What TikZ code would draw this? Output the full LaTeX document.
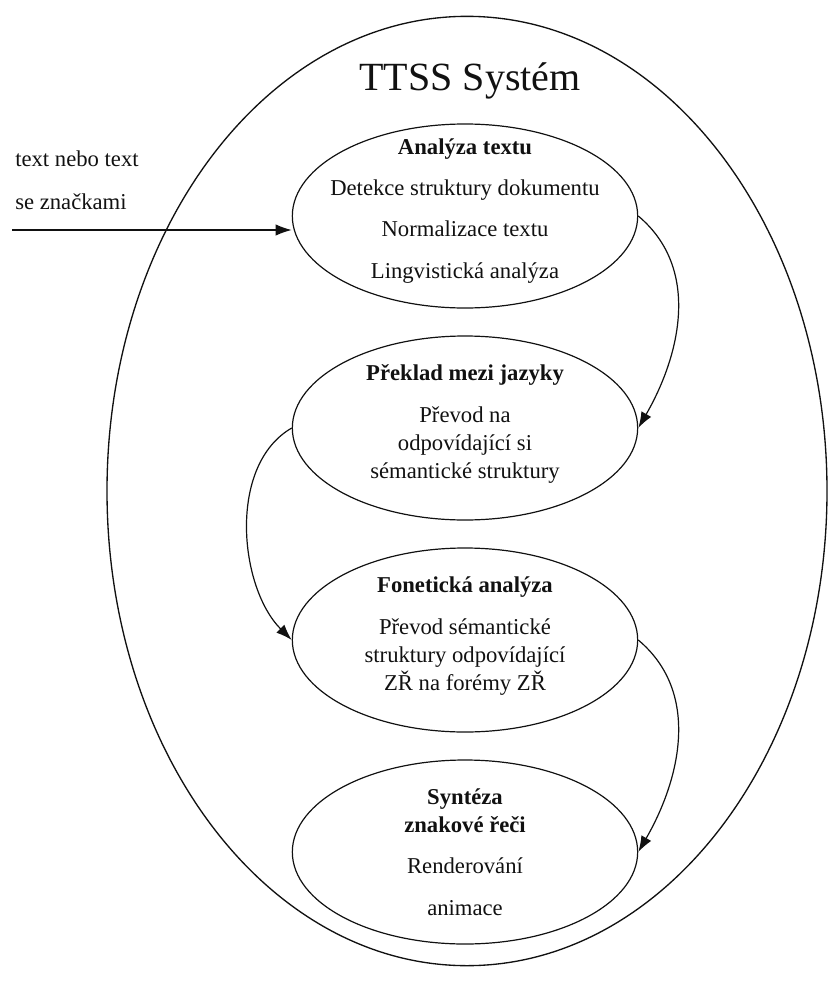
\documentclass[tikz,border=0pt]{standalone}
\usepackage{fontspec}
\setmainfont{Liberation Serif}
\usepackage{xcolor}
\definecolor{ink}{HTML}{111111}
\usepackage{tikz}
\usetikzlibrary{shapes.geometric,arrows.meta,positioning}

\begin{document}
\begin{tikzpicture}[x=0.75pt,y=-0.75pt,
  stage/.style={ellipse,draw=ink,line width=0.9pt,minimum width=259pt,
    minimum height=138pt,inner sep=0pt},
  stagetext/.style={align=center,inner sep=0pt,text=ink,
    font=\fontsize{17}{21}\selectfont},
  arr/.style={-{Latex[length=12pt,width=8.5pt]},ink,line width=0.9pt}]
  \useasboundingbox (0,0) rectangle (829,981);
  \node[ellipse,draw=ink,line width=1pt,minimum width=540pt,minimum height=712pt] (ttss) at (467,491) {};
  \node[anchor=base,text=ink,font=\fontsize{30}{36}\selectfont] (title) at (470,90) {TTSS Systém};
  \node[stage] (analyza) at (465,216) {};
  \node[stage] (preklad) at (465,428) {};
  \node[stage] (fonetika) at (465,640) {};
  \node[stage] (synteza) at (465,852) {};
  \node[stagetext] (analyza-txt) at ([yshift=4pt]analyza.center)
    {\textbf{Analýza textu}\\[10pt] Detekce struktury dokumentu\\[10pt] Normalizace textu\\[10pt] Lingvistická analýza};
  \node[stagetext] (preklad-txt) at ([yshift=3pt]preklad.center)
    {\textbf{Překlad mezi jazyky}\\[10pt] Převod na\\ odpovídající si\\ sémantické struktury};
  \node[stagetext] (fonetika-txt) at ([yshift=3pt]fonetika.center)
    {\textbf{Fonetická analýza}\\[10pt] Převod sémantické\\ struktury odpovídající\\ ZŘ na forémy ZŘ};
  \node[stagetext] (synteza-txt) at ([yshift=0pt]synteza.center)
    {\textbf{Syntéza}\\ \textbf{znakové řeči}\\[10pt] Renderování\\[10pt] animace};
  \node[anchor=north west,align=left,inner sep=0pt,text=ink,
    font=\fontsize{17}{32}\selectfont] (vstup) at (15,151) {text nebo text\\ se značkami};
  \coordinate (inp) at (12,230);
  \draw[arr] (inp) -- (inp -| analyza.west);
  \draw[arr] (analyza.east) to[out=-40,in=60] (preklad.east);
  \draw[arr] (preklad.west) to[out=-150,in=135,looseness=0.9] (fonetika.west);
  \draw[arr] (fonetika.east) to[out=-40,in=60] (synteza.east);
\end{tikzpicture}
\end{document}
